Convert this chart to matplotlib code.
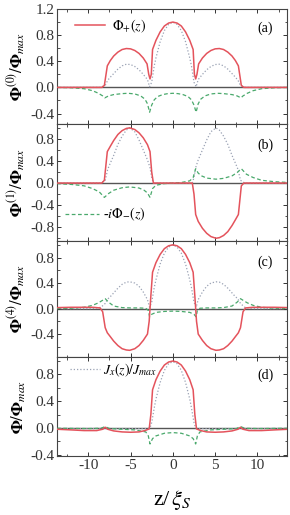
import numpy as np
import matplotlib
matplotlib.use("Agg")
import matplotlib.pyplot as plt
from matplotlib.ticker import MultipleLocator

plt.rcParams['font.family'] = ['Liberation Serif', 'DejaVu Serif']
plt.rcParams['mathtext.fontset'] = 'stix'
plt.rcParams['axes.unicode_minus'] = False

# ---------------- data ----------------
# panel (a)
za_red = [-13.7, -8.4, -8.1, -7.75, -7.4, -7.0, -6.5, -6.0, -5.5, -5.0, -4.5, -4.0, -3.5, -3.05, -2.85, -2.7, -2.55, -2.4, -2.0, -1.5, -1.0, -0.5, 0.0,
          0.5, 1.0, 1.5, 2.0, 2.4, 2.55, 2.7, 2.85, 3.05, 3.5, 4.0, 4.5, 5.0, 5.5, 6.0, 6.5, 7.0, 7.4, 7.75, 8.1, 8.4, 13.7]
ya_red = [0.0, 0.0, 0.03, 0.33, 0.41, 0.48, 0.54, 0.58, 0.595, 0.59, 0.565, 0.52, 0.45, 0.36, 0.2, 0.13, 0.2, 0.58, 0.72, 0.85, 0.94, 0.985, 1.0,
          0.985, 0.94, 0.85, 0.72, 0.58, 0.2, 0.13, 0.2, 0.36, 0.45, 0.52, 0.565, 0.59, 0.595, 0.58, 0.54, 0.48, 0.41, 0.33, 0.03, 0.0, 0.0]
za_dot = [-13.7, -8.6, -8.0, -7.7, -7.3, -6.5, -6.0, -5.5, -5.0, -4.5, -4.0, -3.5, -3.0, -2.75, -2.5, -2.2, -2.0, -1.5, -1.0, -0.5, 0.0,
          0.5, 1.0, 1.5, 2.0, 2.2, 2.5, 2.75, 3.0, 3.5, 4.0, 4.5, 5.0, 5.5, 6.0, 6.5, 7.3, 7.7, 8.0, 8.6, 13.7]
ya_dot = [0.0, 0.0, 0.03, 0.11, 0.17, 0.28, 0.33, 0.355, 0.35, 0.32, 0.27, 0.2, 0.12, 0.01, 0.08, 0.33, 0.45, 0.7, 0.87, 0.965, 1.0,
          0.965, 0.87, 0.7, 0.45, 0.33, 0.08, 0.01, 0.12, 0.2, 0.27, 0.32, 0.35, 0.355, 0.33, 0.28, 0.17, 0.11, 0.03, 0.0, 0.0]
za_grn = [-13.7, -12.0, -10.5, -9.5, -8.8, -8.3, -8.05, -7.6, -7.0, -6.0, -5.3, -4.5, -3.8, -3.3, -3.0, -2.75, -2.5, -2.2, -1.8, -1.2, -0.6, 0.0,
          0.6, 1.2, 1.8, 2.2, 2.5, 2.75, 3.0, 3.3, 3.8, 4.5, 5.3, 6.0, 7.0, 7.6, 8.05, 8.3, 8.8, 9.5, 10.5, 12.0, 13.7]
ya_grn = [0.0, -0.005, -0.02, -0.05, -0.09, -0.13, -0.16, -0.13, -0.11, -0.095, -0.09, -0.10, -0.13, -0.18, -0.25, -0.38, -0.27, -0.19, -0.14, -0.11, -0.095, -0.09,
          -0.095, -0.11, -0.14, -0.19, -0.27, -0.38, -0.25, -0.18, -0.13, -0.10, -0.09, -0.095, -0.11, -0.13, -0.16, -0.13, -0.09, -0.05, -0.02, -0.005, 0.0]

# panel (b)
zb_red = [-13.7, -8.4, -8.1, -7.75, -7.4, -7.0, -6.5, -6.0, -5.5, -5.1, -4.5, -4.0, -3.5, -3.0, -2.7, -2.5, -2.3,
          2.3, 2.5, 2.7, 3.0, 3.5, 4.0, 4.5, 5.1, 5.5, 6.0, 6.5, 7.0, 7.4, 7.75, 8.1, 8.4, 13.7]
yb_red = [0.0, 0.0, 0.05, 0.57, 0.665, 0.77, 0.88, 0.95, 0.99, 1.0, 0.97, 0.91, 0.82, 0.695, 0.57, 0.2, 0.0,
          0.0, -0.2, -0.57, -0.695, -0.82, -0.91, -0.97, -1.0, -0.99, -0.95, -0.88, -0.77, -0.665, -0.57, -0.05, 0.0, 0.0]
zb_dot = [-13.7, -8.5, -8.0, -7.7, -7.4, -7.0, -6.5, -6.0, -5.5, -5.1, -4.5, -4.0, -3.5, -3.0, -2.7, -2.5, -2.3,
          2.3, 2.5, 2.7, 3.0, 3.5, 4.0, 4.5, 5.1, 5.5, 6.0, 6.5, 7.0, 7.4, 7.7, 8.0, 8.5, 13.7]
yb_dot = [0.0, 0.0, 0.05, 0.25, 0.36, 0.5, 0.7, 0.85, 0.96, 1.0, 0.93, 0.78, 0.6, 0.42, 0.28, 0.1, 0.0,
          0.0, 0.1, 0.28, 0.42, 0.6, 0.78, 0.93, 1.0, 0.96, 0.85, 0.7, 0.5, 0.36, 0.25, 0.05, 0.0, 0.0]
zb_grn = [-13.7, -12.0, -10.5, -9.5, -8.7, -8.1, -7.6, -7.0, -6.0, -5.1, -4.0, -3.4, -3.0, -2.7, -2.4, -2.0, -1.0, 0.0,
          1.0, 2.0, 2.4, 2.7, 3.0, 3.4, 4.0, 5.1, 6.0, 7.0, 7.6, 8.1, 8.7, 9.5, 10.5, 12.0, 13.7]
yb_grn = [-0.01, -0.025, -0.05, -0.1, -0.16, -0.26, -0.19, -0.13, -0.085, -0.07, -0.09, -0.13, -0.18, -0.26, -0.1, -0.04, -0.01, 0.0,
          0.01, 0.04, 0.1, 0.26, 0.18, 0.13, 0.09, 0.07, 0.085, 0.13, 0.19, 0.26, 0.16, 0.1, 0.05, 0.025, 0.01]

# panel (c)
zc_red = [-13.7, -12.0, -10.5, -9.5, -8.6, -8.3, -8.0, -7.75, -7.4, -7.0, -6.5, -6.0, -5.5, -5.1, -4.5, -4.0, -3.5, -3.0, -2.8, -2.6, -2.4, -2.0, -1.5, -1.0, -0.5, 0.0,
          0.5, 1.0, 1.5, 2.0, 2.4, 2.6, 2.8, 3.0, 3.5, 4.0, 4.5, 5.1, 5.5, 6.0, 6.5, 7.0, 7.4, 7.75, 8.0, 8.3, 8.6, 9.5, 10.5, 12.0, 13.7]
yc_red = [0.015, 0.02, 0.02, 0.02, 0.01, -0.05, -0.3, -0.38, -0.44, -0.51, -0.58, -0.63, -0.65, -0.655, -0.63, -0.58, -0.5, -0.4, -0.2, 0.2, 0.57, 0.72, 0.85, 0.94, 0.985, 1.0,
          0.985, 0.94, 0.85, 0.72, 0.57, 0.2, -0.2, -0.4, -0.5, -0.58, -0.63, -0.655, -0.65, -0.63, -0.58, -0.51, -0.44, -0.38, -0.3, -0.05, 0.01, 0.02, 0.02, 0.02, 0.015]
zc_dot = [-13.7, -9.5, -8.5, -8.0, -7.7, -7.3, -6.5, -6.0, -5.5, -5.1, -4.5, -4.0, -3.5, -3.0, -2.75, -2.5, -2.2, -2.0, -1.5, -1.0, -0.5, 0.0,
          0.5, 1.0, 1.5, 2.0, 2.2, 2.5, 2.75, 3.0, 3.5, 4.0, 4.5, 5.1, 5.5, 6.0, 6.5, 7.3, 7.7, 8.0, 8.5, 9.5, 13.7]
yc_dot = [0.0, 0.0, 0.02, 0.08, 0.15, 0.2, 0.32, 0.38, 0.415, 0.42, 0.4, 0.35, 0.26, 0.14, 0.02, 0.1, 0.33, 0.45, 0.7, 0.87, 0.965, 1.0,
          0.965, 0.87, 0.7, 0.45, 0.33, 0.1, 0.02, 0.14, 0.26, 0.35, 0.4, 0.42, 0.415, 0.38, 0.32, 0.2, 0.15, 0.08, 0.02, 0.0, 0.0]
zc_grn = [-13.7, -12.0, -10.5, -9.5, -8.8, -8.3, -8.0, -7.6, -7.0, -6.0, -5.0, -4.0, -3.2, -2.9, -2.75, -2.5, -2.0, -1.0, 0.0,
          1.0, 2.0, 2.5, 2.75, 2.9, 3.2, 4.0, 5.0, 6.0, 7.0, 7.6, 8.0, 8.3, 8.8, 9.5, 10.5, 12.0, 13.7]
yc_grn = [0.0, 0.005, 0.02, 0.05, 0.09, 0.13, 0.155, 0.1, 0.04, 0.015, 0.01, 0.01, 0.005, -0.03, -0.13, -0.09, -0.06, -0.045, -0.04,
          -0.045, -0.06, -0.09, -0.13, -0.03, 0.005, 0.01, 0.01, 0.015, 0.04, 0.1, 0.155, 0.13, 0.09, 0.05, 0.02, 0.005, 0.0]

# panel (d)
zd_red = [-13.7, -12.0, -10.5, -9.0, -8.3, -8.0, -7.7, -7.0, -6.0, -5.0, -4.0, -3.3, -2.8, -2.6, -2.4, -2.0, -1.5, -1.0, -0.5, 0.0,
          0.5, 1.0, 1.5, 2.0, 2.4, 2.6, 2.8, 3.3, 4.0, 5.0, 6.0, 7.0, 7.7, 8.0, 8.3, 9.0, 10.5, 12.0, 13.7]
yd_red = [-0.02, -0.03, -0.04, -0.04, -0.02, 0.01, -0.02, -0.045, -0.06, -0.065, -0.06, -0.04, -0.015, 0.2, 0.57, 0.72, 0.85, 0.94, 0.985, 1.0,
          0.985, 0.94, 0.85, 0.72, 0.57, 0.2, -0.015, -0.04, -0.06, -0.065, -0.06, -0.045, -0.02, 0.01, -0.02, -0.04, -0.04, -0.03, -0.02]
zd_dot = [-13.7, -3.0, -2.7, -2.5, -2.2, -2.0, -1.5, -1.0, -0.5, 0.0, 0.5, 1.0, 1.5, 2.0, 2.2, 2.5, 2.7, 3.0, 13.7]
yd_dot = [-0.01, -0.01, 0.0, 0.08, 0.3, 0.43, 0.68, 0.86, 0.96, 0.99, 0.96, 0.86, 0.68, 0.43, 0.3, 0.08, 0.0, -0.01, -0.01]
zd_grn = [-13.7, -10.0, -8.5, -8.0, -7.5, -6.0, -4.5, -3.2, -2.9, -2.7, -2.4, -2.0, -1.0, 0.0,
          1.0, 2.0, 2.4, 2.7, 2.9, 3.2, 4.5, 6.0, 7.5, 8.0, 8.5, 10.0, 13.7]
yd_grn = [-0.005, -0.01, -0.005, 0.02, -0.01, -0.02, -0.03, -0.06, -0.12, -0.24, -0.16, -0.12, -0.08, -0.07,
          -0.08, -0.12, -0.16, -0.24, -0.12, -0.06, -0.03, -0.02, -0.01, 0.02, -0.005, -0.01, -0.005]

xticks = [-10, -5, 0, 5, 10]
panel_tags = ['(a)', '(b)', '(c)', '(d)']
ylabels = [r'$\mathbf{\Phi}^{(0)}/\mathbf{\Phi}_{max}$', r'$\mathbf{\Phi}^{(1)}/\mathbf{\Phi}_{max}$',
           r'$\mathbf{\Phi}^{(4)}/\mathbf{\Phi}_{max}$', r'$\mathbf{\Phi}/\mathbf{\Phi}_{max}$']
yticks = [[-0.4, 0.0, 0.4, 0.8, 1.2], [-0.8, -0.4, 0.0, 0.4, 0.8], [-0.4, 0.0, 0.4, 0.8], [-0.4, 0.0, 0.4, 0.8]]
ylims = [(-0.56, 1.2), (-1.05, 1.07), (-0.76, 1.06), (-0.42, 1.06)]

RED = '#e4535c'
GRN = '#4aa96c'
DOT = '#9aa2b4'

W, H = 290, 515
fig = plt.figure(figsize=(W / 100, H / 100), dpi=100)
boxes = [(9, 124), (124, 241), (241, 357), (357, 456)]
left, right = 57, 287

data = [
    (za_red, ya_red, za_dot, ya_dot, za_grn, ya_grn),
    (zb_red, yb_red, zb_dot, yb_dot, zb_grn, yb_grn),
    (zc_red, yc_red, zc_dot, yc_dot, zc_grn, yc_grn),
    (zd_red, yd_red, zd_dot, yd_dot, zd_grn, yd_grn),
]

axes = []
for i, (top, bot) in enumerate(boxes):
    ax = fig.add_axes([left / W, 1 - bot / H, (right - left) / W, (bot - top) / H])
    axes.append(ax)
    zr, yr, zdt, ydt, zg, yg = data[i]
    ax.axhline(0, color='#555555', lw=1.0, zorder=1)
    l_dot, = ax.plot(zdt, ydt, color=DOT, lw=0.9, ls=(0, (1, 1.6)), zorder=2)
    l_grn, = ax.plot(zg, yg, color=GRN, lw=0.9, ls=(0, (3, 2)), zorder=3)
    l_red, = ax.plot(zr, yr, color=RED, lw=1.1, zorder=4)
    ax.set_xlim(-13.7, 13.5)
    ax.set_ylim(*ylims[i])
    ax.set_yticks(yticks[i])
    ax.set_yticklabels(['%.1f' % v for v in yticks[i]])
    ax.yaxis.set_minor_locator(MultipleLocator(0.2))
    ax.set_xticks(xticks)
    ax.xaxis.set_minor_locator(MultipleLocator(2.5))
    ax.tick_params(which='both', direction='in', top=True, right=True, labelsize=11, colors='#333333', pad=2)
    ax.tick_params(which='major', length=3, width=0.7)
    ax.tick_params(which='minor', length=1.8, width=0.6)
    for s in ax.spines.values():
        s.set_color('#444444')
        s.set_linewidth(0.8)
    if i < 3:
        ax.tick_params(labelbottom=False)
    ax.set_ylabel(ylabels[i], fontsize=12)
    ax.yaxis.set_label_coords(-0.125, 0.5)
    ax.text(0.905, 0.83 if i == 0 else 0.82, panel_tags[i], transform=ax.transAxes,
            fontsize=10, ha='center', va='center')
    if i == 0:
        ax.legend([l_red], [r'$\Phi_{+}(z)$'], loc='upper left', bbox_to_anchor=(0.04, 1.0),
                  frameon=False, fontsize=10, handlelength=2.2, handletextpad=0.5, borderaxespad=0.2)
    if i == 1:
        ax.legend([l_grn], [r'-$i\Phi_{-}(z)$'], loc='lower left', bbox_to_anchor=(0.0, 0.08),
                  frameon=False, fontsize=10, handlelength=2.4, handletextpad=0.3, borderaxespad=0.2)
    if i == 3:
        ax.legend([l_dot], [r'$J_x(z)/J_{max}$'], loc='upper left', bbox_to_anchor=(0.02, 1.04),
                  frameon=False, fontsize=10, handlelength=2.2, handletextpad=0.2, borderaxespad=0.2)

axes[3].set_xlabel(r'z/$\,\xi_S$', fontsize=16, labelpad=12)

fig.savefig('out.png', dpi=100)
